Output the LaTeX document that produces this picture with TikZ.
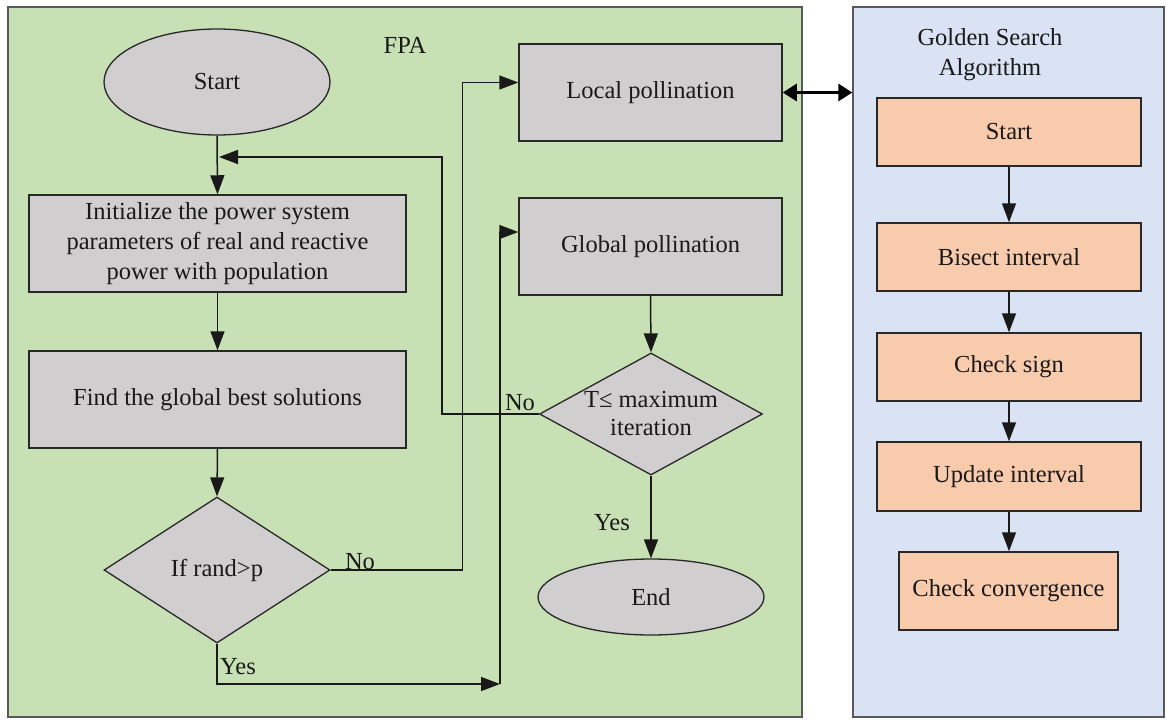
\documentclass[tikz,border=0pt]{standalone}
\usepackage{fontspec}
\setmainfont{Liberation Serif}
\usetikzlibrary{arrows.meta,shapes.geometric}
\definecolor{fpagreen}{RGB}{199,224,180}
\definecolor{gsablue}{RGB}{218,227,243}
\definecolor{boxgray}{RGB}{208,206,206}
\definecolor{boxorange}{RGB}{248,203,173}
\definecolor{edgecol}{RGB}{40,40,40}
\begin{document}
\begin{tikzpicture}[x=1pt,y=-1pt,
  every node/.style={font=\fontsize{24.5}{30}\selectfont, text=black!90},
  panel/.style={draw=black!65, line width=1.3pt, inner sep=0pt},
  graybox/.style={draw=edgecol, fill=boxgray, line width=1.5pt, inner sep=0pt, align=center},
  orangebox/.style={draw=edgecol, fill=boxorange, line width=1.5pt, inner sep=0pt, minimum width=264pt, align=center},
  term/.style={ellipse, draw=edgecol, fill=boxgray, line width=1.3pt, inner sep=0pt},
  decide/.style={diamond, draw=edgecol, fill=boxgray, line width=1.3pt, inner sep=0pt, align=center},
  conn/.style={draw=black!90, line width=1.5pt},
  arr/.style={conn, -{Triangle[length=19pt,width=14pt]}},
  dbl/.style={draw=black, line width=3pt, {Triangle[length=14pt,width=17pt]}-{Triangle[length=14pt,width=17pt]}},
  lab/.style={inner sep=0pt}
]
\useasboundingbox (0,0) rectangle (1167,720);
% panels
\node[panel, fill=fpagreen, minimum width=794pt, minimum height=710pt] (fpa) at (405,362) {};
\node[panel, fill=gsablue, minimum width=311pt, minimum height=710pt] (gsa) at (1008.5,362) {};
\node[lab] (fpalbl) at (405,45) {FPA};
\node[lab, align=center] (gsalbl) at (990,55) {Golden Search\\Algorithm};
% FPA nodes
\node[term, minimum width=226pt, minimum height=106pt] (start) at (217,82) {Start};
\node[graybox, minimum width=377pt, minimum height=97pt] (init) at (217.5,243.5) {Initialize the power system\\parameters of real and reactive\\power with population};
\node[graybox, minimum width=377pt, minimum height=97pt] (find) at (217.5,399.5) {Find the global best solutions};
\node[decide, minimum width=226pt, minimum height=146pt] (rand) at (217,570) {If rand>p};
\node[graybox, minimum width=263pt, minimum height=97pt] (local) at (650.5,92.5) {Local pollination};
\node[graybox, minimum width=263pt, minimum height=97pt] (global) at (650.5,246.5) {Global pollination};
\node[decide, shape aspect=1.83, inner sep=-7pt, minimum width=223pt, minimum height=122pt, font=\fontsize{24.5}{28}\selectfont] (tmax) at (651,414) {T≤ maximum\\iteration};
\node[term, minimum width=226pt, minimum height=76pt] (end) at (651,597) {End};
% GSA nodes
\node[orangebox, minimum height=68pt] (gstart) at (1009,132) {Start};
\node[orangebox, minimum height=68pt] (bisect) at (1009,257) {Bisect interval};
\node[orangebox, minimum height=68pt] (sign) at (1009,367) {Check sign};
\node[orangebox, minimum height=69pt] (update) at (1009,476.5) {Update interval};
\node[orangebox, minimum width=219pt, minimum height=78pt] (conv) at (1008.5,591) {Check convergence};
% coordinates
\coordinate (fb) at (219,157);
\coordinate (yc) at (500,684);
% labels
\node[lab] (nolbl1) at (360,562) {No};
\node[lab] (yeslbl1) at (238,667) {Yes};
\node[lab] (nolbl2) at (520,403) {No};
\node[lab] (yeslbl2) at (612,523) {Yes};
% FPA connectors
\draw[arr] (start.south) -- (init.north);
\draw[arr] (init.south) -- (find.north);
\draw[arr] (find.south) -- (rand.north);
\draw[arr] (rand.east) -- ++(132,0) |- ([yshift=10pt]local.west);
\draw[arr] (rand.south) |- (yc);
\draw[arr] (yc) |- ([yshift=14.5pt]global.west);
\draw[arr] (global.south) -- (tmax.north);
\draw[arr] (tmax.south) -- (end.north);
\draw[arr] (tmax.west) -- ++(-97,0) |- (fb);
% link
\draw[dbl] (local.east) -- (local.east -| gsa.west);
% GSA connectors
\draw[arr] (gstart.south) -- (bisect.north);
\draw[arr] (bisect.south) -- (sign.north);
\draw[arr] (sign.south) -- (update.north);
\draw[arr] (update.south) -- (update.south |- conv.north);
\end{tikzpicture}
\end{document}
